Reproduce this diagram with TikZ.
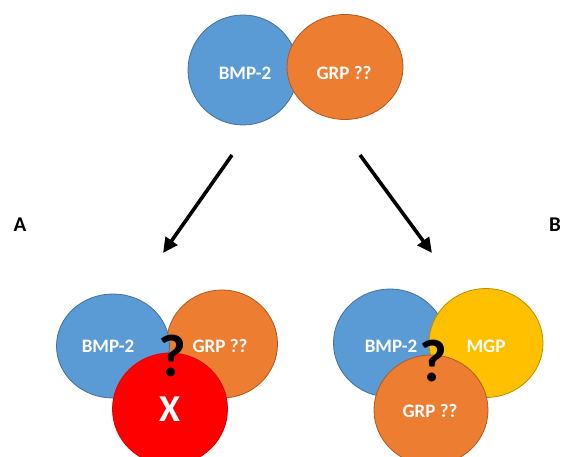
\documentclass[tikz,border=0pt]{standalone}
\usepackage{fontspec}
\setmainfont{Carlito}
\usetikzlibrary{shapes.geometric,arrows.meta}
\definecolor{cblue}{HTML}{5B9BD5}
\definecolor{cblueL}{HTML}{41719C}
\definecolor{corange}{HTML}{ED7D31}
\definecolor{corangeL}{HTML}{AE5A21}
\definecolor{cyellow}{HTML}{FFC000}
\definecolor{cyellowL}{HTML}{BC8C00}
\definecolor{cred}{HTML}{FF0000}
\definecolor{credL}{HTML}{E00000}
\tikzset{
  blob/.style={ellipse, inner sep=0pt, line width=0.8pt},
  lbl/.style={text=white, font=\fontsize{19}{19}\selectfont\bfseries},
  qmark/.style={font=\fontsize{60}{60}\selectfont\bfseries, text=black, inner sep=0pt},
  side/.style={font=\fontsize{21}{21}\selectfont\bfseries, text=black, inner sep=0pt},
  bigarrow/.style={line width=3.6pt, -{Triangle[length=15pt,width=14pt]}}
}
\begin{document}
\begin{tikzpicture}[x=1pt,y=-1pt]
\useasboundingbox (0,0) rectangle (562,457);
\clip (0,0) rectangle (562,457);
\fill[white] (0,0) rectangle (562,457);
% top pair
\node[blob, fill=cblue, draw=cblueL, minimum width=110pt, minimum height=110pt] (tb) at (243,70) {};
\node[blob, fill=corange, draw=corangeL, minimum width=116pt, minimum height=105pt] (to) at (345,67) {};
\node[lbl] (tbl) at (245,73) {BMP-2};
\node[lbl] (tol) at (344,73) {GRP ??};
% arrows
\coordinate (la1) at (232,155);
\coordinate (la2) at (163,253);
\coordinate (ra1) at (360,155);
\coordinate (ra2) at (432,253);
\draw[bigarrow] (la1) -- (la2);
\draw[bigarrow] (ra1) -- (ra2);
% side labels
\node[side] (A) at (20,225) {A};
\node[side, anchor=east] (B) at (561,225) {B};
% bottom-left group
\node[blob, fill=corange, draw=corangeL, minimum width=111pt, minimum height=108pt] (lo) at (222,344) {};
\node[blob, fill=cblue, draw=cblueL, minimum width=113pt, minimum height=104pt] (lb) at (113,346) {};
\node[blob, fill=cred, draw=credL, minimum width=115pt, minimum height=112pt] (lr) at (170,409) {};
\node[lbl] (lbl1) at (108,346) {BMP-2};
\node[lbl] (lbl2) at (220,346) {GRP ??};
\node[text=white, font=\fontsize{38}{38}\selectfont\bfseries] (lx) at (170,409) {X};
\node[qmark] (lq) at (172,356) {?};
% bottom-right group
\node[blob, fill=cblue, draw=cblueL, minimum width=113pt, minimum height=108pt] (rb) at (390,343) {};
\node[blob, fill=cyellow, draw=cyellowL, minimum width=114pt, minimum height=109pt] (ry) at (486,343) {};
\node[blob, fill=corange, draw=corangeL, minimum width=114pt, minimum height=110pt] (ro) at (431,410) {};
\node[lbl] (rbl) at (391,346) {BMP-2};
\node[lbl] (ryl) at (486,346) {MGP};
\node[lbl] (rol) at (430,411) {GRP ??};
\node[qmark] (rq) at (433,361) {?};
\end{tikzpicture}
\end{document}
